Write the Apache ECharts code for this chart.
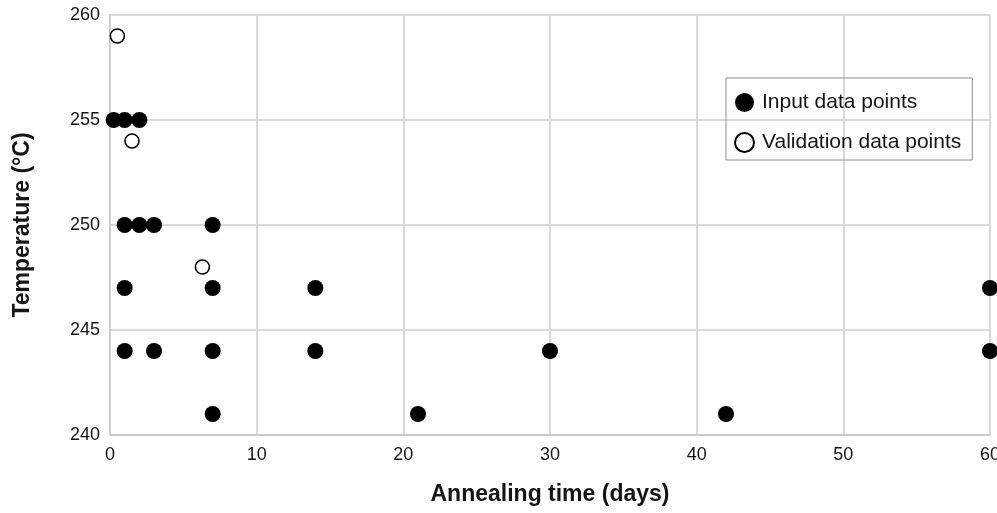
<!DOCTYPE html>
<html>
<head>
<meta charset="utf-8">
<script src="https://cdn.jsdelivr.net/npm/echarts@6/dist/echarts.min.js"></script>
<style>
  html, body { margin: 0; padding: 0; background: #fff; }
  #chart { width: 997px; height: 513px; }
</style>
</head>
<body>
<div id="chart"></div>
<script>
// Annealing time (days) vs temperature (°C)
const inputDays  = [0.25, 1, 2, 1, 2, 3, 7, 1, 7, 14, 1, 3, 7, 14, 30, 60, 60, 7, 21, 42];
const inputTemps = [255, 255, 255, 250, 250, 250, 250, 247, 247, 247, 244, 244, 244, 244, 244, 244, 247, 241, 241, 241];
const validationDays  = [0.5, 1.5, 6.3];
const validationTemps = [259, 254, 248];

const xTicks = [0, 10, 20, 30, 40, 50, 60];
const yTicks = [240, 245, 250, 255, 260];

const pairs = (xs, ys) => xs.map((x, i) => [x, ys[i]]);
const font = '"Liberation Sans", Arial, sans-serif';
const ink = '#151515';

const chart = echarts.init(document.getElementById('chart'), null, { renderer: 'canvas' });
chart.setOption({
  animation: false,
  textStyle: { fontFamily: font },
  grid: { left: 110, right: 7, top: 15, bottom: 78, outerBoundsMode: 'none', containLabel: false },
  legend: {
    orient: 'vertical',
    left: 726, top: 78,
    padding: [14, 11, 7, 8],
    itemGap: 19,
    itemWidth: 19, itemHeight: 19,
    borderColor: '#8c8c8c', borderWidth: 1,
    textStyle: { fontSize: 21, color: ink, fontFamily: font, padding: [0, 0, 0, 3] },
    data: [
      { name: 'Input data points', icon: 'circle' },
      { name: 'Validation data points', icon: 'circle' }
    ]
  },
  xAxis: {
    type: 'value',
    min: xTicks[0], max: xTicks[xTicks.length - 1], interval: 10,
    name: 'Annealing time (days)',
    nameLocation: 'middle', nameGap: 48,
    nameTextStyle: { fontSize: 23, fontWeight: 'bold', color: ink, fontFamily: font },
    axisLine: { lineStyle: { color: '#cccccc', width: 2 } },
    axisTick: { show: false },
    axisLabel: { fontSize: 18, color: ink, margin: 11, fontFamily: font },
    splitLine: { show: true, lineStyle: { color: '#d9d9d9', width: 2 } }
  },
  yAxis: {
    type: 'value',
    min: yTicks[0], max: yTicks[yTicks.length - 1], interval: 5,
    name: 'Temperature (°C)',
    nameLocation: 'middle', nameGap: 76, nameRotate: 90,
    nameTextStyle: { fontSize: 23, fontWeight: 'bold', color: ink, fontFamily: font },
    axisLine: { show: true, lineStyle: { color: '#cccccc', width: 2 } },
    axisTick: { show: false },
    axisLabel: { fontSize: 18, color: ink, margin: 10, fontFamily: font },
    splitLine: { show: true, lineStyle: { color: '#d9d9d9', width: 2 } }
  },
  series: [
    {
      name: 'Input data points',
      type: 'scatter',
      symbol: 'circle',
      symbolSize: 16,
      clip: false,
      itemStyle: { color: '#000', opacity: 1 },
      data: pairs(inputDays, inputTemps)
    },
    {
      name: 'Validation data points',
      type: 'scatter',
      symbol: 'circle',
      symbolSize: 14,
      clip: false,
      itemStyle: { color: '#fff', borderColor: '#000', borderWidth: 1.6, opacity: 1 },
      data: pairs(validationDays, validationTemps)
    }
  ]
});
</script>
</body>
</html>
